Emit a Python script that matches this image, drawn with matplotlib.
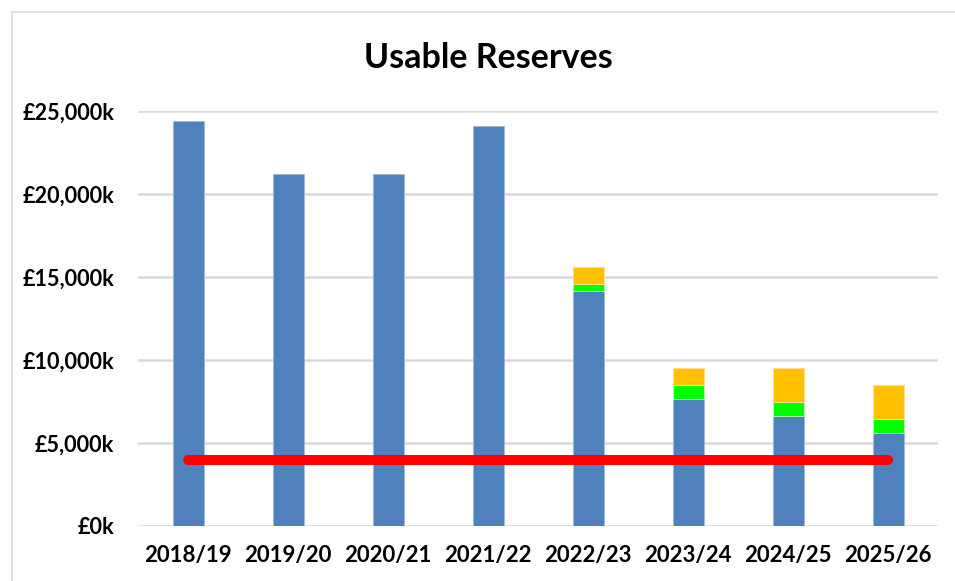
import matplotlib.pyplot as plt
from matplotlib.patches import Rectangle
import numpy as np

plt.rcParams.update({
    "font.family": ["Lato", "DejaVu Sans"],
    "font.weight": "bold",
})

# Data (in £k)
years = ["2018/19", "2019/20", "2020/21", "2021/22", "2022/23", "2023/24", "2024/25", "2025/26"]
core = [24400, 21200, 21200, 24100, 14170, 7650, 6650, 5620]
green_part = [0, 0, 0, 0, 410, 840, 840, 830]
orange_part = [0, 0, 0, 0, 1000, 1030, 2010, 2030]
minimum_level = 4000

yticks = [0, 5000, 10000, 15000, 20000, 25000]
ytick_labels = ["£0k", "£5,000k", "£10,000k", "£15,000k", "£20,000k", "£25,000k"]

fig = plt.figure(figsize=(9.55, 5.81), dpi=100)
ax = fig.add_axes([138 / 955, 1 - 526 / 581, 800 / 955, 415 / 581])

# light frame round the chart area
fig.patches.append(Rectangle((12 / 955, -0.05), 1.0, 1 - 12 / 581 + 0.05,
                             transform=fig.transFigure, fill=False,
                             edgecolor="#D9D9D9", linewidth=1.2))

x = np.arange(len(years))
w = 0.31
ax.bar(x, core, w, color="#4F81BD", edgecolor="#9DB7DA", linewidth=0.6, zorder=2)
# only draw edges on segments that exist
lw_g = [0.6 if v > 0 else 0 for v in green_part]
lw_o = [0.6 if v > 0 else 0 for v in orange_part]
ax.bar(x, green_part, w, bottom=core, color="#00FF00", edgecolor="#B3FFB3",
       linewidth=lw_g, zorder=2)
bottom2 = np.array(core) + np.array(green_part)
ax.bar(x, orange_part, w, bottom=bottom2, color="#FFC000", edgecolor="#FFE08A",
       linewidth=lw_o, zorder=2)

ax.plot([x[0], x[-1]], [minimum_level, minimum_level], color="#FF0000",
        linewidth=7.2, solid_capstyle="round", zorder=3)

ax.set_xlim(-0.5, len(years) - 0.5)
ax.set_ylim(0, 25000)
ax.set_yticks(yticks)
ax.set_yticklabels(ytick_labels)
ax.set_xticks(x)
ax.set_xticklabels(years)
ax.tick_params(axis="both", length=0)
ax.tick_params(axis="y", pad=17, labelsize=15.6)
ax.tick_params(axis="x", pad=14, labelsize=16)
for lbl in ax.get_xticklabels() + ax.get_yticklabels():
    lbl.set_fontweight("bold")

ax.grid(axis="y", color="#D9D9D9", linewidth=1.8, zorder=0)
ax.set_axisbelow(True)
for s in ax.spines.values():
    s.set_visible(False)

fig.text(488 / 955, 1 - 58 / 581, "Usable Reserves", ha="center", va="center",
         fontsize=24.5, fontweight="bold")

plt.savefig("out.png", dpi=100)
